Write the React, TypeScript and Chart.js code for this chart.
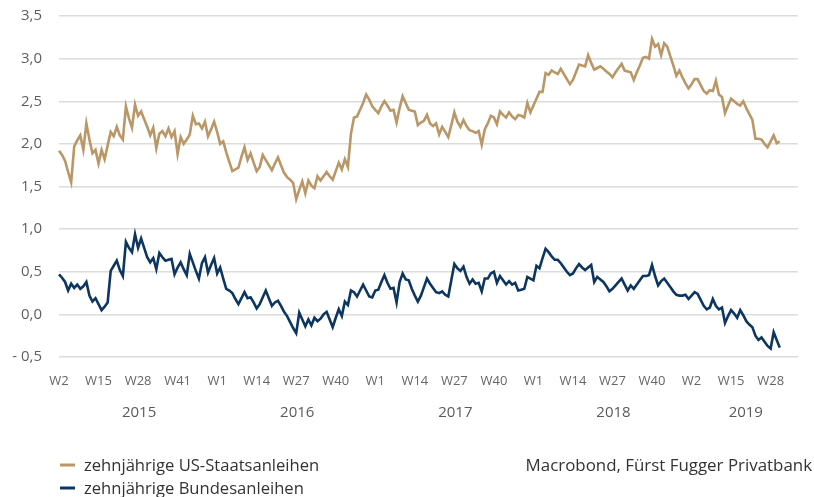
import React, { useEffect, useRef } from "react";
import { Chart, registerables } from "chart.js";

Chart.register(...registerables);

// Calendar structure of the weekly x axis
const years = [2015, 2016, 2017, 2018, 2019];
const firstWeek = [2, 1, 1, 1, 2];
const weekCount = [52, 52, 52, 52, 36];

// Weekly 10-year yields (%)
const usYield = [
  1.92, 1.87, 1.80, 1.67, 1.55, 1.97, 2.04, 2.10, 1.93, 2.24,
  2.05, 1.89, 1.93, 1.77, 1.93, 1.82, 1.98, 2.14, 2.09, 2.20,
  2.10, 2.05, 2.44, 2.30, 2.19, 2.46, 2.33, 2.38, 2.29, 2.20,
  2.10, 2.19, 1.95, 2.12, 2.15, 2.09, 2.18, 2.08, 2.15, 1.88,
  2.08, 2.00, 2.05, 2.11, 2.33, 2.23, 2.24, 2.18, 2.26, 2.09,
  2.17, 2.26, 2.14, 2.00, 2.03, 1.90, 1.79, 1.68, 1.70, 1.72,
  1.85, 1.96, 1.81, 1.89, 1.78, 1.68, 1.73, 1.87, 1.81, 1.75,
  1.69, 1.77, 1.84, 1.75, 1.66, 1.61, 1.58, 1.54, 1.35, 1.46,
  1.56, 1.42, 1.57, 1.51, 1.48, 1.62, 1.57, 1.62, 1.67, 1.62,
  1.58, 1.68, 1.78, 1.70, 1.82, 1.73, 2.12, 2.31, 2.32, 2.40,
  2.48, 2.58, 2.52, 2.44, 2.40, 2.36, 2.44, 2.50, 2.45, 2.39,
  2.40, 2.25, 2.42, 2.56, 2.48, 2.40, 2.39, 2.38, 2.22, 2.25,
  2.27, 2.34, 2.24, 2.21, 2.24, 2.11, 2.20, 2.14, 2.08, 2.22,
  2.37, 2.26, 2.20, 2.28, 2.21, 2.16, 2.15, 2.13, 2.15, 1.99,
  2.17, 2.24, 2.33, 2.31, 2.23, 2.38, 2.34, 2.31, 2.37, 2.32,
  2.29, 2.34, 2.33, 2.31, 2.48, 2.37, 2.45, 2.53, 2.61, 2.61,
  2.83, 2.81, 2.86, 2.84, 2.82, 2.88, 2.82, 2.76, 2.70, 2.75,
  2.84, 2.93, 2.92, 2.91, 3.04, 2.95, 2.87, 2.89, 2.91, 2.88,
  2.85, 2.82, 2.78, 2.84, 2.89, 2.94, 2.86, 2.85, 2.84, 2.75,
  2.84, 2.92, 3.01, 3.02, 3.00, 3.23, 3.14, 3.17, 3.04, 3.18,
  3.14, 3.03, 2.92, 2.80, 2.86, 2.78, 2.71, 2.65, 2.70, 2.76,
  2.76, 2.69, 2.62, 2.59, 2.63, 2.62, 2.74, 2.58, 2.55, 2.36,
  2.45, 2.53, 2.50, 2.47, 2.45, 2.50, 2.42, 2.35, 2.28, 2.06,
  2.06, 2.05, 2.00, 1.96, 2.03, 2.10, 2.01, 2.03,
];

const bundYield = [
  0.47, 0.43, 0.38, 0.28, 0.36, 0.31, 0.35, 0.30, 0.33, 0.38,
  0.22, 0.15, 0.19, 0.12, 0.05, 0.09, 0.14, 0.51, 0.57, 0.63,
  0.52, 0.45, 0.85, 0.78, 0.73, 0.94, 0.78, 0.89, 0.78, 0.67,
  0.61, 0.66, 0.53, 0.72, 0.67, 0.63, 0.64, 0.65, 0.47, 0.55,
  0.61, 0.53, 0.46, 0.71, 0.61, 0.51, 0.42, 0.60, 0.67, 0.49,
  0.58, 0.66, 0.48, 0.55, 0.42, 0.30, 0.28, 0.25, 0.18, 0.12,
  0.19, 0.26, 0.19, 0.20, 0.14, 0.07, 0.12, 0.20, 0.28, 0.19,
  0.10, 0.14, 0.16, 0.10, 0.03, -0.02, -0.09, -0.16, -0.22, 0.02,
  -0.06, -0.14, -0.06, -0.13, -0.04, -0.08, -0.05, 0.00, 0.03, -0.06,
  -0.15, -0.04, 0.06, -0.02, 0.15, 0.11, 0.28, 0.26, 0.21, 0.28,
  0.35, 0.28, 0.21, 0.20, 0.28, 0.29, 0.38, 0.46, 0.37, 0.30,
  0.31, 0.14, 0.38, 0.48, 0.41, 0.40, 0.30, 0.22, 0.15, 0.22,
  0.32, 0.42, 0.36, 0.31, 0.26, 0.25, 0.27, 0.23, 0.21, 0.40,
  0.59, 0.54, 0.51, 0.56, 0.44, 0.36, 0.41, 0.36, 0.37, 0.27,
  0.42, 0.42, 0.48, 0.50, 0.37, 0.45, 0.40, 0.35, 0.39, 0.35,
  0.37, 0.28, 0.29, 0.30, 0.44, 0.42, 0.40, 0.57, 0.54, 0.66,
  0.77, 0.73, 0.68, 0.64, 0.64, 0.60, 0.55, 0.50, 0.46, 0.48,
  0.54, 0.59, 0.55, 0.52, 0.55, 0.58, 0.38, 0.44, 0.41, 0.38,
  0.33, 0.27, 0.30, 0.34, 0.38, 0.42, 0.35, 0.28, 0.34, 0.30,
  0.35, 0.40, 0.45, 0.45, 0.46, 0.58, 0.45, 0.34, 0.39, 0.42,
  0.37, 0.32, 0.27, 0.23, 0.22, 0.22, 0.23, 0.18, 0.22, 0.26,
  0.24, 0.17, 0.10, 0.06, 0.08, 0.18, 0.10, 0.06, 0.08, -0.10,
  -0.02, 0.05, 0.01, -0.04, 0.05, -0.01, -0.08, -0.12, -0.15, -0.25,
  -0.30, -0.27, -0.32, -0.37, -0.40, -0.21, -0.30, -0.39,
];

const seriesNames = ["zehnjährige US-Staatsanleihen", "zehnjährige Bundesanleihen"];
const seriesColors = ["#B99766", "#0C3660"];
const sourceText = "Macrobond, Fürst Fugger Privatbank";
const yMin = -0.5;
const yMax = 3.5;
const yStep = 0.5;
const tickEveryWeeks = 13;

// Build weekly category labels
const weekLabels: string[] = [];
const weekOffset: number[] = [];
const yearStart: number[] = [];
years.forEach((_, yi) => {
  yearStart.push(weekLabels.length);
  for (let k = 0; k < weekCount[yi]; k++) {
    weekLabels.push("W" + (firstWeek[yi] + k));
    weekOffset.push(k);
  }
});

const FONT = "'Open Sans', 'Noto Sans', sans-serif";

const overlayPlugin = {
  id: "overlay",
  afterDraw(chart: any) {
    const { ctx, chartArea } = chart;
    const xs = chart.scales.x;
    ctx.save();
    // Year labels
    ctx.font = `15px ${FONT}`;
    ctx.fillStyle = "#5a5a5a";
    ctx.textAlign = "center";
    ctx.textBaseline = "middle";
    years.forEach((yr, i) => {
      const a = xs.getPixelForValue(yearStart[i]);
      const bIdx = i < years.length - 1 ? yearStart[i + 1] : weekLabels.length - 1;
      const b = xs.getPixelForValue(bIdx);
      ctx.fillText(String(yr), (a + b) / 2 + 1, chartArea.bottom + 56);
    });
    // Legend
    ctx.font = `16.6px ${FONT}`;
    ctx.textAlign = "left";
    chart.data.datasets.forEach((ds: any, i: number) => {
      const y = chartArea.bottom + 108 + i * 23;
      ctx.strokeStyle = ds.borderColor;
      ctx.lineWidth = 3;
      ctx.beginPath();
      ctx.moveTo(chartArea.left + 1, y);
      ctx.lineTo(chartArea.left + 16, y);
      ctx.stroke();
      ctx.fillStyle = "#333333";
      ctx.fillText(ds.label, chartArea.left + 25, y + 1);
    });
    // Source
    ctx.textAlign = "right";
    ctx.fillStyle = "#333333";
    ctx.font = `16.9px ${FONT}`;
    ctx.fillText(sourceText, chart.width - 2, chartArea.bottom + 109);
    ctx.restore();
  },
};

export default function App() {
  const ref = useRef<HTMLCanvasElement>(null);
  useEffect(() => {
    document.body.style.margin = "0";
    const chart = new Chart(ref.current as HTMLCanvasElement, {
      type: "line",
      data: {
        labels: weekLabels,
        datasets: [
          {
            label: seriesNames[0],
            data: usYield,
            borderColor: seriesColors[0],
            backgroundColor: seriesColors[0],
            borderWidth: 2.6,
            pointRadius: 0,
            tension: 0,
          },
          {
            label: seriesNames[1],
            data: bundYield,
            borderColor: seriesColors[1],
            backgroundColor: seriesColors[1],
            borderWidth: 2.6,
            pointRadius: 0,
            tension: 0,
          },
        ],
      },
      options: {
        responsive: false,
        animation: false,
        devicePixelRatio: 1,
        layout: { padding: { top: 16, right: 8, bottom: 100, left: 0 } },
        plugins: {
          legend: { display: false },
          tooltip: { enabled: false },
          title: { display: false },
        },
        scales: {
          x: {
            type: "category",
            offset: false,
            grid: { display: false, drawTicks: false },
            border: { display: false },
            ticks: {
              autoSkip: false,
              maxRotation: 0,
              minRotation: 0,
              padding: 16,
              color: "#666666",
              font: { family: FONT, size: 13 },
              callback: (_v: any, idx: number) =>
                weekOffset[idx] % tickEveryWeeks === 0 && weekOffset[idx] < 52 ? weekLabels[idx] : "",
            },
            afterFit: (s: any) => {
              s.height = 40;
            },
          },
          y: {
            min: yMin,
            max: yMax,
            grid: { color: "#dcdcdc", lineWidth: 1.5, drawTicks: false },
            border: { display: false },
            ticks: {
              stepSize: yStep,
              padding: 17,
              color: "#5f5f5f",
              font: { family: FONT, size: 15 },
              callback: (v: any) => {
                const n = Number(v);
                const s = Math.abs(n).toFixed(1).replace(".", ",");
                return n < -1e-9 ? "- " + s : s;
              },
            },
            afterFit: (s: any) => {
              s.width = 59;
              s.paddingTop = 0;
              s.paddingBottom = 0;
            },
          },
        },
      },
      plugins: [overlayPlugin],
    });
    return () => chart.destroy();
  }, []);
  return (
    <div style={{ width: 814, height: 497 }}>
      <canvas ref={ref} width={814} height={497} style={{ display: "block" }} />
    </div>
  );
}
